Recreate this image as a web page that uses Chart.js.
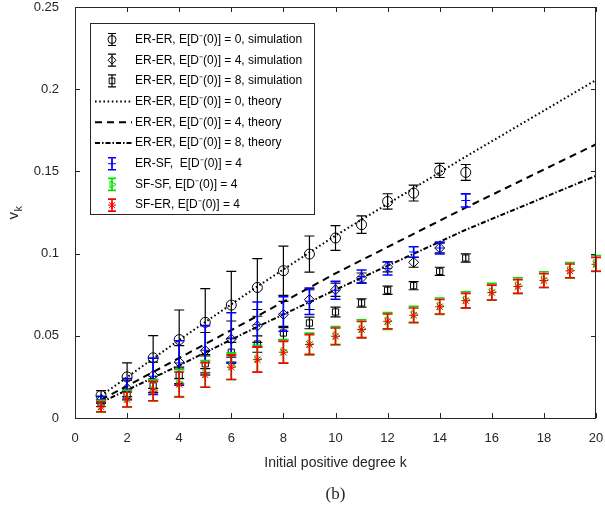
<!DOCTYPE html>
<html>
<head>
<meta charset="utf-8">
<script src="https://cdn.jsdelivr.net/npm/chart.js@4/dist/chart.umd.min.js"></script>
<style>
  html, body { margin: 0; padding: 0; background: #fff; }
  #wrap { width: 605px; height: 514px; }
</style>
</head>
<body>
<div id="wrap"><canvas id="chart" width="605" height="514"></canvas></div>
<script>
/* v_k versus initial positive degree k — simulations with error bars, theory lines. */

const xTicks = [0, 2, 4, 6, 8, 10, 12, 14, 16, 18, 20];
const yTicks = [0, 0.05, 0.1, 0.15, 0.2, 0.25];
const yTickLabels = ["0", "0.05", "0.1", "0.15", "0.2", "0.25"];

// ER-ER simulations
const kE0 = [1, 2, 3, 4, 5, 6, 7, 8, 9, 10, 11, 12, 13, 14, 15];
const simE0 = [0.0137, 0.025, 0.0366, 0.0477, 0.0582, 0.0687, 0.0794, 0.0896, 0.0997, 0.1095, 0.1176, 0.1317, 0.1368, 0.1506, 0.1494];
const errE0 = [0.003, 0.0085, 0.0135, 0.018, 0.0205, 0.0205, 0.0175, 0.015, 0.011, 0.0075, 0.0053, 0.0047, 0.0048, 0.0043, 0.0048];

const kE4 = [1, 2, 3, 4, 5, 6, 7, 8, 9, 10, 11, 12, 13, 14];
const simE4 = [0.011, 0.018, 0.026, 0.034, 0.041, 0.048, 0.056, 0.063, 0.072, 0.078, 0.0852, 0.0919, 0.0947, 0.1034];
const errE4 = [0.002, 0.005, 0.008, 0.01, 0.011, 0.011, 0.01, 0.008, 0.006, 0.004, 0.003, 0.003, 0.003, 0.003];

const kE8 = [1, 2, 3, 4, 5, 6, 7, 8, 9, 10, 11, 12, 13, 14, 15];
const simE8 = [0.009, 0.014, 0.0195, 0.026, 0.033, 0.04, 0.045, 0.0517, 0.0578, 0.0645, 0.07, 0.0777, 0.0805, 0.0892, 0.0973];
const errE8 = [0.002, 0.003, 0.004, 0.005, 0.0055, 0.006, 0.005, 0.004, 0.0035, 0.003, 0.0025, 0.0025, 0.0025, 0.0025, 0.0025];

// theory curves (read at a few k)
const theoryK = [1, 4, 7, 10, 15, 20];
const theoryE0 = [0.0135, 0.0475, 0.08, 0.111, 0.159, 0.2056];
const theoryE4 = [0.011, 0.0365, 0.062, 0.088, 0.128, 0.1665];
const theoryE8 = [0.0095, 0.032, 0.0555, 0.078, 0.1145, 0.1473];

// other network pairs, E[D-(0)] = 4
const kERSF = [1, 2, 3, 4, 5, 6, 7, 8, 9, 10, 11, 12, 13, 14, 15];
const simERSF = [0.0112, 0.0178, 0.0254, 0.0335, 0.0412, 0.0487, 0.0568, 0.0633, 0.071, 0.0777, 0.086, 0.091, 0.101, 0.1034, 0.1323];
const errERSF = [0.002, 0.0062, 0.011, 0.0135, 0.015, 0.0153, 0.0138, 0.0105, 0.008, 0.0055, 0.004, 0.004, 0.0032, 0.0036, 0.004];

const kSF = [1, 2, 3, 4, 5, 6, 7, 8, 9, 10, 11, 12, 13, 14, 15, 16, 17, 18, 19, 20];
const simSFSF = [0.0072, 0.0118, 0.0168, 0.0212, 0.0268, 0.0315, 0.036, 0.0405, 0.045, 0.05, 0.0542, 0.059, 0.063, 0.068, 0.0718, 0.0768, 0.0805, 0.0842, 0.0898, 0.094];
const errSFSF = [0.0036, 0.0051, 0.0064, 0.0082, 0.0081, 0.0081, 0.0082, 0.0072, 0.0066, 0.0056, 0.0055, 0.0051, 0.005, 0.005, 0.005, 0.0051, 0.0048, 0.0048, 0.0048, 0.0048];
const simSFER = [0.0068, 0.0112, 0.0163, 0.0204, 0.0262, 0.0309, 0.0355, 0.04, 0.0447, 0.0497, 0.0538, 0.0588, 0.0625, 0.0677, 0.0714, 0.0763, 0.08, 0.0836, 0.0895, 0.0935];
const errSFER = [0.003, 0.0045, 0.0058, 0.0076, 0.0075, 0.0075, 0.0076, 0.0066, 0.006, 0.005, 0.0049, 0.0045, 0.0044, 0.0044, 0.0044, 0.0045, 0.0042, 0.0042, 0.0042, 0.0042];

const LEGEND = [
  "ER-ER, E[D\u207B(0)] = 0, simulation",
  "ER-ER, E[D\u207B(0)] = 4, simulation",
  "ER-ER, E[D\u207B(0)] = 8, simulation",
  "ER-ER, E[D\u207B(0)] = 0, theory",
  "ER-ER, E[D\u207B(0)] = 4, theory",
  "ER-ER, E[D\u207B(0)] = 8, theory",
  "ER-SF,  E[D\u207B(0)] = 4",
  "SF-SF, E[D\u207B(0)] = 4",
  "SF-ER, E[D\u207B(0)] = 4",
];

const FONT = "'Liberation Sans', Arial, sans-serif";
const AXIS = "#262626";
const pts = (ks, vs) => ks.map((k, i) => ({ x: k, y: vs[i] }));

function sim(label, ks, vs, errs, style, color, radius, extra) {
  return Object.assign({
    label, data: pts(ks, vs), errors: errs, errorColor: color, errorWidth: 1.2,
    showLine: false, pointStyle: style, pointRadius: radius, pointBorderColor: color,
    pointBackgroundColor: "transparent", pointBorderWidth: 1, borderColor: color,
  }, extra || {});
}

function theory(label, vs, dash) {
  return {
    label, data: pts(theoryK, vs), borderColor: "#000", borderWidth: 2, borderDash: dash,
    pointRadius: 0, tension: 0, fill: false, showLine: true,
  };
}

// order: first dataset is painted last (on top)
const datasets = [
  sim(LEGEND[8], kSF, simSFER, errSFER, "star", "#ff0000", 4.5, { errorWidth: 1.6 }),
  sim(LEGEND[7], kSF, simSFSF, errSFSF, "triangle", "#00e000", 4.5, { pointRotation: 90, errorWidth: 1.6 }),
  sim(LEGEND[6], kERSF, simERSF, errERSF, "cross", "#0000ff", 4.5, { errorWidth: 1.6 }),
  theory(LEGEND[5], theoryE8, [5, 2, 1.5, 2]),
  theory(LEGEND[4], theoryE4, [7, 5]),
  theory(LEGEND[3], theoryE0, [1.6, 2.6]),
  sim(LEGEND[2], kE8, simE8, errE8, "rect", "#000", 4.4),
  sim(LEGEND[1], kE4, simE4, errE4, "rectRot", "#000", 5),
  sim(LEGEND[0], kE0, simE0, errE0, "circle", "#000", 5),
];

const CAP = 5;

const errorBars = {
  id: "errorBars",
  beforeDatasetDraw(chart, args) {
    const ds = chart.data.datasets[args.index];
    if (!ds.errors) return;
    const { ctx, scales: { x, y } } = chart;
    ctx.save();
    ctx.strokeStyle = ds.errorColor;
    ctx.lineWidth = ds.errorWidth;
    ds.data.forEach((p, i) => {
      const px = x.getPixelForValue(p.x);
      const lo = y.getPixelForValue(p.y - ds.errors[i]);
      const hi = y.getPixelForValue(p.y + ds.errors[i]);
      ctx.beginPath();
      ctx.moveTo(px, lo); ctx.lineTo(px, hi);
      ctx.moveTo(px - CAP, lo); ctx.lineTo(px + CAP, lo);
      ctx.moveTo(px - CAP, hi); ctx.lineTo(px + CAP, hi);
      ctx.stroke();
    });
    ctx.restore();
  },
};

const frame = {
  id: "frame",
  afterDraw(chart) {
    const { ctx, chartArea: a, scales: { x, y } } = chart;
    ctx.save();
    ctx.strokeStyle = AXIS;
    ctx.lineWidth = 1;
    ctx.strokeRect(a.left + 0.5, a.top + 0.5, a.right - a.left - 1, a.bottom - a.top);
    ctx.beginPath();
    xTicks.forEach((v) => {
      const px = Math.round(x.getPixelForValue(v)) + 0.5;
      ctx.moveTo(px, a.bottom); ctx.lineTo(px, a.bottom - 5);
      ctx.moveTo(px, a.top); ctx.lineTo(px, a.top + 5);
    });
    yTicks.forEach((v) => {
      const py = Math.round(y.getPixelForValue(v)) + 0.5;
      ctx.moveTo(a.left, py); ctx.lineTo(a.left + 5, py);
      ctx.moveTo(a.right, py); ctx.lineTo(a.right - 5, py);
    });
    ctx.stroke();

    // axis titles
    ctx.fillStyle = AXIS;
    ctx.textAlign = "center";
    ctx.textBaseline = "middle";
    ctx.font = `14px ${FONT}`;
    ctx.fillText("Initial positive degree k", (a.left + a.right) / 2, 463);
    ctx.font = "17px 'Liberation Serif', 'Times New Roman', serif";
    ctx.fillText("(b)", (a.left + a.right) / 2, 495);
    ctx.translate(16, (a.top + a.bottom) / 2);
    ctx.rotate(-Math.PI / 2);
    ctx.textAlign = "left";
    ctx.font = `15px ${FONT}`;
    ctx.fillText("v", -7, -2);
    ctx.font = `11px ${FONT}`;
    ctx.fillText("k", 1, 3);
    ctx.restore();

    drawLegend(chart);
  },
};

function drawLegend(chart) {
  const { ctx } = chart;
  const box = { left: 90.5, top: 23.5, right: 314.5, bottom: 214.5 };
  const rowY = (i) => 39.5 + i * 20.7;
  const symX = 112;
  ctx.save();
  ctx.fillStyle = "#fff";
  ctx.fillRect(box.left, box.top, box.right - box.left, box.bottom - box.top);
  ctx.strokeStyle = AXIS;
  ctx.lineWidth = 1;
  ctx.strokeRect(box.left, box.top, box.right - box.left, box.bottom - box.top);

  const order = [8, 7, 6, 5, 4, 3, 2, 1, 0]; // dataset index for each legend row
  order.forEach((di, row) => {
    const ds = chart.data.datasets[di];
    const cy = rowY(row);
    if (ds.errors) {
      ctx.strokeStyle = ds.errorColor;
      ctx.lineWidth = ds.errorWidth;
      ctx.beginPath();
      ctx.moveTo(symX, cy - 6); ctx.lineTo(symX, cy + 6);
      ctx.moveTo(symX - 4, cy - 6); ctx.lineTo(symX + 4, cy - 6);
      ctx.moveTo(symX - 4, cy + 6); ctx.lineTo(symX + 4, cy + 6);
      ctx.stroke();
      ctx.fillStyle = "rgba(0,0,0,0)";
      ctx.strokeStyle = ds.pointBorderColor;
      ctx.lineWidth = 1;
      Chart.helpers.drawPoint(ctx, {
        pointStyle: ds.pointStyle, radius: Math.min(ds.pointRadius, 4), rotation: ds.pointRotation || 0,
        borderWidth: 1,
      }, symX, cy);
    } else {
      ctx.strokeStyle = "#000";
      ctx.lineWidth = 2;
      ctx.setLineDash(ds.borderDash);
      ctx.beginPath();
      ctx.moveTo(95, cy); ctx.lineTo(132, cy);
      ctx.stroke();
      ctx.setLineDash([]);
    }
    ctx.fillStyle = "#000";
    ctx.font = `12px ${FONT}`;
    ctx.textAlign = "left";
    ctx.textBaseline = "middle";
    ctx.fillText(ds.label, 135, cy);
  });
  ctx.restore();
}

new Chart(document.getElementById("chart"), {
  type: "line",
  data: { datasets },
  options: {
    responsive: false,
    animation: false,
    layout: { padding: 0 },
    plugins: { legend: { display: false }, tooltip: { enabled: false } },
    scales: {
      x: {
        type: "linear", min: 0, max: 20,
        afterBuildTicks: (s) => { s.ticks = xTicks.map((v) => ({ value: v })); },
        afterFit: (s) => { s.height = 96; s.paddingLeft = 0; s.paddingRight = 9; },
        grid: { display: false }, border: { display: false },
        ticks: { padding: 5, color: AXIS, font: { family: FONT, size: 13 }, callback: (v) => String(v) },
      },
      y: {
        type: "linear", min: 0, max: 0.25,
        afterBuildTicks: (s) => { s.ticks = yTicks.map((v) => ({ value: v })); },
        afterFit: (s) => { s.width = 75; s.paddingTop = 7; s.paddingBottom = 0; },
        grid: { display: false }, border: { display: false },
        ticks: { padding: 8, color: AXIS, font: { family: FONT, size: 13 }, callback: (v, i) => yTickLabels[i] },
      },
    },
  },
  plugins: [errorBars, frame],
});
</script>
</body>
</html>
